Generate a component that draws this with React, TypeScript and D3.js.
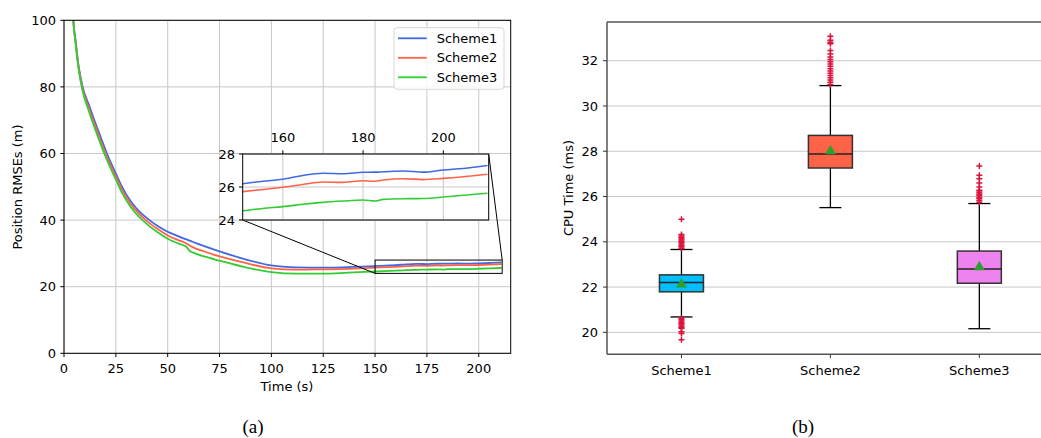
import { useEffect, useRef } from 'react'
import * as d3 from 'd3'

// panel (a): RMSE curves
const timeS = [4, 4.5, 5.5, 7, 9, 12, 15, 18, 21, 25, 28, 32, 36, 40, 45, 50, 55, 59, 60.5, 62, 68, 75, 87, 100, 112, 125, 137, 150, 155, 160, 165, 170, 175, 180, 183, 185, 190, 195, 200, 205, 211]
const scheme1Rmse = [112, 100, 94.5, 86.5, 80, 74.6, 69.4, 64.4, 59.5, 54, 50, 45.8, 42.8, 40.6, 38.3, 36.5, 35.2, 34.2, 33.85, 33.5, 32.1, 30.6, 28.3, 26.4, 25.8, 25.7, 25.9, 26.2, 26.35, 26.47, 26.7, 26.83, 26.8, 26.89, 26.9, 26.92, 26.97, 26.9, 27.03, 27.12, 27.3]
const scheme2Rmse = [112, 100, 94, 86, 79.3, 73.6, 68.3, 63.3, 58.5, 53.1, 49.1, 45, 42, 39.7, 37.4, 35.4, 34, 33, 32.4, 31.9, 30.5, 29.1, 27.2, 25.5, 25.1, 25.2, 25.35, 25.72, 25.85, 25.98, 26.15, 26.3, 26.28, 26.38, 26.35, 26.42, 26.5, 26.45, 26.52, 26.62, 26.77]
const scheme3Rmse = [112, 100, 93.5, 85.5, 78.7, 72.7, 67.3, 62.3, 57.6, 52.2, 48.2, 44.1, 41.1, 38.8, 36.4, 34.4, 33, 32, 30.8, 30.3, 29, 27.8, 25.9, 24.4, 23.9, 23.9, 24.2, 24.56, 24.7, 24.81, 24.95, 25.07, 25.15, 25.21, 25.15, 25.25, 25.29, 25.3, 25.39, 25.5, 25.62]
const lineNames = ['Scheme1', 'Scheme2', 'Scheme3']
const lineColors = ['#4169e1', '#ff6347', '#32cd32']
const rmseTicksX = [0, 25, 50, 75, 100, 125, 150, 175, 200]
const rmseTicksY = [0, 20, 40, 60, 80, 100]
const insetTicksX = [160, 180, 200]
const insetTicksY = [24, 26, 28]

// panel (b): CPU time box plots
const schemes = ['Scheme1', 'Scheme2', 'Scheme3']
const boxColors = ['#00bfff', '#ff6347', '#ee82ee']
const q1 = [21.79, 27.26, 22.17]
const medians = [22.2, 27.88, 22.8]
const q3 = [22.54, 28.7, 23.59]
const whiskerLow = [20.68, 25.51, 20.16]
const whiskerHigh = [23.66, 30.9, 25.69]
const means = [22.16, 28.04, 22.92]
const outliers1 = [23.72, 23.78, 23.84, 23.9, 23.96, 24.02, 24.08, 24.14, 24.2, 24.26, 24.32, 25.0, 20.62, 20.56, 20.5, 20.44, 20.38, 20.32, 20.26, 20.2, 20.18, 20.03, 19.95, 19.67]
const outliers2 = [30.95, 31.05, 31.15, 31.25, 31.35, 31.45, 31.55, 31.65, 31.75, 31.85, 31.95, 32.05, 32.16, 32.3, 32.45, 32.75, 32.82, 32.9, 33.08]
const outliers3 = [25.75, 25.82, 25.9, 25.97, 26.04, 26.1, 26.17, 26.24, 26.28, 26.42, 26.6, 26.79, 26.94, 27.35]
const cpuTicksY = [20, 22, 24, 26, 28, 30, 32]

const FONT = 'DejaVu Sans, sans-serif'

export default function App() {
  const svgRef = useRef<SVGSVGElement>(null)

  useEffect(() => {
    if (!svgRef.current) return
    const svg = d3.select(svgRef.current)
    svg.selectAll('*').remove()

    const series = [scheme1Rmse, scheme2Rmse, scheme3Rmse]

    // ---------- panel (a) ----------
    const x = d3.scaleLinear().domain([0, 215.4]).range([64, 510.7])
    const y = d3.scaleLinear().domain([0, 100]).range([353.3, 20.3])
    const a = svg.append('g')

    a.append('clipPath').attr('id', 'clipA')
      .append('rect').attr('x', 64).attr('y', 20.3).attr('width', 446.7).attr('height', 333)

    a.selectAll('.gx').data(rmseTicksX).enter().append('line')
      .attr('x1', d => x(d)).attr('x2', d => x(d)).attr('y1', 20.3).attr('y2', 353.3)
      .attr('stroke', '#c8c8c8').attr('stroke-width', 1)
    a.selectAll('.gy').data(rmseTicksY).enter().append('line')
      .attr('x1', 64).attr('x2', 510.7).attr('y1', d => y(d)).attr('y2', d => y(d))
      .attr('stroke', '#c8c8c8').attr('stroke-width', 1)

    const line = d3.line<number>()
      .x((d, i) => x(timeS[i]))
      .y(d => y(d))
      .curve(d3.curveMonotoneX)

    series.forEach((s, k) => {
      a.append('path').datum(s)
        .attr('clip-path', 'url(#clipA)')
        .attr('fill', 'none').attr('stroke', lineColors[k]).attr('stroke-width', 1.8)
        .attr('d', line)
    })

    // zoom rectangle on main axes
    a.append('rect')
      .attr('x', x(150)).attr('y', y(28))
      .attr('width', x(211.3) - x(150)).attr('height', y(24) - y(28))
      .attr('fill', 'none').attr('stroke', '#000').attr('stroke-width', 1)

    a.append('rect').attr('x', 64).attr('y', 20.3).attr('width', 446.7).attr('height', 333)
      .attr('fill', 'none').attr('stroke', '#000').attr('stroke-width', 1)

    a.selectAll('.tx').data(rmseTicksX).enter().append('line')
      .attr('x1', d => x(d)).attr('x2', d => x(d)).attr('y1', 353.3).attr('y2', 357)
      .attr('stroke', '#000')
    a.selectAll('.tlx').data(rmseTicksX).enter().append('text')
      .attr('x', d => x(d)).attr('y', 372.5).attr('text-anchor', 'middle')
      .attr('font-family', FONT).attr('font-size', 13).text(d => d)
    a.selectAll('.ty').data(rmseTicksY).enter().append('line')
      .attr('x1', 60.3).attr('x2', 64).attr('y1', d => y(d)).attr('y2', d => y(d))
      .attr('stroke', '#000')
    a.selectAll('.tly').data(rmseTicksY).enter().append('text')
      .attr('x', 56).attr('y', d => y(d) + 4.6).attr('text-anchor', 'end')
      .attr('font-family', FONT).attr('font-size', 13).text(d => d)

    a.append('text').attr('x', 287).attr('y', 391).attr('text-anchor', 'middle')
      .attr('font-family', FONT).attr('font-size', 13).text('Time (s)')
    a.append('text').attr('transform', 'translate(22,187) rotate(-90)').attr('text-anchor', 'middle')
      .attr('font-family', FONT).attr('font-size', 13).text('Position RMSEs (m)')

    // inset
    const ix = d3.scaleLinear().domain([150, 211.3]).range([242.7, 488.7])
    const iy = d3.scaleLinear().domain([24, 28]).range([220, 154])
    const ins = svg.append('g')

    // connector lines
    ins.append('line').attr('x1', ix(150)).attr('y1', iy(24)).attr('x2', x(150)).attr('y2', y(24))
      .attr('stroke', '#000').attr('stroke-width', 1)
    ins.append('line').attr('x1', ix(211.3)).attr('y1', iy(28)).attr('x2', x(211.3)).attr('y2', y(28))
      .attr('stroke', '#000').attr('stroke-width', 1)

    ins.append('clipPath').attr('id', 'clipI')
      .append('rect').attr('x', 242.7).attr('y', 154).attr('width', 246).attr('height', 66)
    ins.append('rect').attr('x', 242.7).attr('y', 154).attr('width', 246).attr('height', 66)
      .attr('fill', '#fff')
    ins.selectAll('.igx').data(insetTicksX).enter().append('line')
      .attr('x1', d => ix(d)).attr('x2', d => ix(d)).attr('y1', 154).attr('y2', 220)
      .attr('stroke', '#c8c8c8')
    ins.selectAll('.igy').data(insetTicksY).enter().append('line')
      .attr('x1', 242.7).attr('x2', 488.7).attr('y1', d => iy(d)).attr('y2', d => iy(d))
      .attr('stroke', '#c8c8c8')

    const iline = d3.line<number>()
      .x((d, i) => ix(timeS[i]))
      .y(d => iy(d))
      .curve(d3.curveMonotoneX)
    series.forEach((s, k) => {
      ins.append('path').datum(s)
        .attr('clip-path', 'url(#clipI)')
        .attr('fill', 'none').attr('stroke', lineColors[k]).attr('stroke-width', 1.6)
        .attr('d', iline)
    })
    ins.append('rect').attr('x', 242.7).attr('y', 154).attr('width', 246).attr('height', 66)
      .attr('fill', 'none').attr('stroke', '#000').attr('stroke-width', 1)
    ins.selectAll('.itx').data(insetTicksX).enter().append('line')
      .attr('x1', d => ix(d)).attr('x2', d => ix(d)).attr('y1', 150.3).attr('y2', 154)
      .attr('stroke', '#000')
    ins.selectAll('.itlx').data(insetTicksX).enter().append('text')
      .attr('x', d => ix(d)).attr('y', 141.5).attr('text-anchor', 'middle')
      .attr('font-family', FONT).attr('font-size', 13).text(d => d)
    ins.selectAll('.ity').data(insetTicksY).enter().append('line')
      .attr('x1', 239).attr('x2', 242.7).attr('y1', d => iy(d)).attr('y2', d => iy(d))
      .attr('stroke', '#000')
    ins.selectAll('.itly').data(insetTicksY).enter().append('text')
      .attr('x', 235).attr('y', d => iy(d) + 4.6).attr('text-anchor', 'end')
      .attr('font-family', FONT).attr('font-size', 13).text(d => d)

    // legend
    const leg = svg.append('g')
    leg.append('rect').attr('x', 394).attr('y', 27.7).attr('width', 110).attr('height', 61.6)
      .attr('rx', 3).attr('fill', '#fff').attr('fill-opacity', 0.85)
      .attr('stroke', '#d6d6d6').attr('stroke-width', 1)
    lineNames.forEach((n, k) => {
      const cy = 38.3 + k * 19.5
      leg.append('line').attr('x1', 398).attr('x2', 426.7).attr('y1', cy).attr('y2', cy)
        .attr('stroke', lineColors[k]).attr('stroke-width', 1.8)
      leg.append('text').attr('x', 436.7).attr('y', cy + 4.6)
        .attr('font-family', FONT).attr('font-size', 13).text(n)
    })

    // ---------- panel (b) ----------
    const bx = d3.scaleLinear().domain([0.5, 3.5]).range([607, 1053.8])
    const by = d3.scaleLinear().domain([19.03, 33.71]).range([354.3, 22])
    const b = svg.append('g')
    const boxW = 44

    b.selectAll('.bgy').data(cpuTicksY).enter().append('line')
      .attr('x1', 607).attr('x2', 1053.8).attr('y1', d => by(d)).attr('y2', d => by(d))
      .attr('stroke', '#c8c8c8').attr('stroke-width', 1)

    const outs = [outliers1, outliers2, outliers3]
    schemes.forEach((s, k) => {
      const cx = bx(k + 1)
      // whiskers
      b.append('line').attr('x1', cx).attr('x2', cx).attr('y1', by(q3[k])).attr('y2', by(whiskerHigh[k]))
        .attr('stroke', '#000').attr('stroke-width', 1.3)
      b.append('line').attr('x1', cx).attr('x2', cx).attr('y1', by(q1[k])).attr('y2', by(whiskerLow[k]))
        .attr('stroke', '#000').attr('stroke-width', 1.3)
      b.append('line').attr('x1', cx - boxW / 4).attr('x2', cx + boxW / 4)
        .attr('y1', by(whiskerHigh[k])).attr('y2', by(whiskerHigh[k]))
        .attr('stroke', '#000').attr('stroke-width', 1.3)
      b.append('line').attr('x1', cx - boxW / 4).attr('x2', cx + boxW / 4)
        .attr('y1', by(whiskerLow[k])).attr('y2', by(whiskerLow[k]))
        .attr('stroke', '#000').attr('stroke-width', 1.3)
      // outliers
      b.selectAll('.o' + k).data(outs[k]).enter().append('path')
        .attr('d', d => `M${cx - 3},${by(d)}h6M${cx},${by(d) - 3}v6`)
        .attr('stroke', '#dc143c').attr('stroke-width', 1.5).attr('fill', 'none')
      // box
      b.append('rect').attr('x', cx - boxW / 2).attr('y', by(q3[k]))
        .attr('width', boxW).attr('height', by(q1[k]) - by(q3[k]))
        .attr('fill', boxColors[k]).attr('stroke', '#333').attr('stroke-width', 1.5)
      b.append('line').attr('x1', cx - boxW / 2).attr('x2', cx + boxW / 2)
        .attr('y1', by(medians[k])).attr('y2', by(medians[k]))
        .attr('stroke', '#222').attr('stroke-width', 1.5)
      // mean marker
      const my = by(means[k])
      b.append('path').attr('d', `M${cx},${my - 5.5}L${cx + 5.5},${my + 4}L${cx - 5.5},${my + 4}Z`)
        .attr('fill', '#2ca02c')
    })

    // spines
    b.append('line').attr('x1', 607).attr('x2', 607).attr('y1', 22).attr('y2', 354.3)
      .attr('stroke', '#555').attr('stroke-width', 1.5)
    b.append('line').attr('x1', 607).attr('x2', 1053.8).attr('y1', 22).attr('y2', 22)
      .attr('stroke', '#555').attr('stroke-width', 1.5)
    b.append('line').attr('x1', 607).attr('x2', 1053.8).attr('y1', 354.3).attr('y2', 354.3)
      .attr('stroke', '#555').attr('stroke-width', 1.5)

    b.selectAll('.bty').data(cpuTicksY).enter().append('line')
      .attr('x1', 603).attr('x2', 607).attr('y1', d => by(d)).attr('y2', d => by(d))
      .attr('stroke', '#333')
    b.selectAll('.btly').data(cpuTicksY).enter().append('text')
      .attr('x', 598).attr('y', d => by(d) + 4.6).attr('text-anchor', 'end')
      .attr('font-family', FONT).attr('font-size', 13).text(d => d)
    b.selectAll('.btx').data(schemes).enter().append('line')
      .attr('x1', (d, i) => bx(i + 1)).attr('x2', (d, i) => bx(i + 1)).attr('y1', 354.3).attr('y2', 358)
      .attr('stroke', '#333')
    b.selectAll('.btlx').data(schemes).enter().append('text')
      .attr('x', (d, i) => bx(i + 1)).attr('y', 374.5).attr('text-anchor', 'middle')
      .attr('font-family', FONT).attr('font-size', 13).text(d => d)
    b.append('text').attr('transform', 'translate(573,188) rotate(-90)').attr('text-anchor', 'middle')
      .attr('font-family', FONT).attr('font-size', 13).text('CPU Time (ms)')

    // captions
    svg.append('text').attr('x', 253).attr('y', 433).attr('text-anchor', 'middle')
      .attr('font-family', 'Liberation Serif, serif').attr('font-size', 19).text('(a)')
    svg.append('text').attr('x', 803).attr('y', 433).attr('text-anchor', 'middle')
      .attr('font-family', 'Liberation Serif, serif').attr('font-size', 19).text('(b)')
  }, [])

  return (
    <svg
      ref={svgRef}
      width={1041}
      height={438}
      style={{ position: 'absolute', left: 0, top: 0, background: '#fff' }}
    />
  )
}
